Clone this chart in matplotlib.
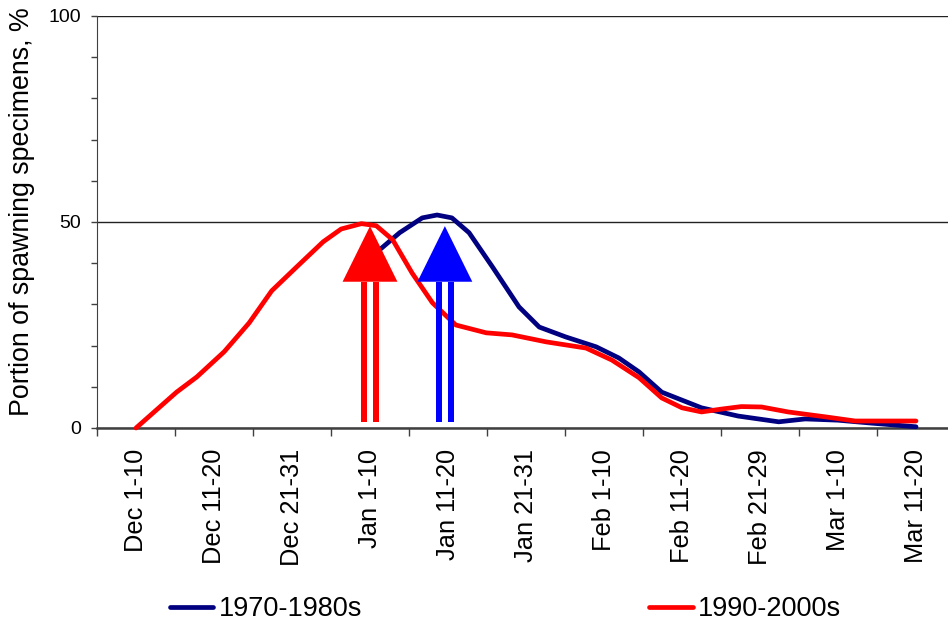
import matplotlib
matplotlib.use("Agg")
import matplotlib.pyplot as plt
from matplotlib.patches import Polygon, Rectangle
from matplotlib.ticker import FixedLocator, NullFormatter

plt.rcParams['font.family'] = ['Liberation Sans', 'DejaVu Sans']

# ten-day periods (category axis)
periods = ["Dec 1-10", "Dec 11-20", "Dec 21-31", "Jan 1-10", "Jan 11-20",
           "Jan 21-31", "Feb 1-10", "Feb 11-20", "Feb 21-29", "Mar 1-10",
           "Mar 11-20"]

# 1970-1980s curve, x in period index units
old_x = [3.0, 3.12, 3.38, 3.67, 3.86, 4.05, 4.27, 4.57, 4.91, 5.17, 5.51,
         5.90, 6.19, 6.45, 6.74, 7.25, 7.72, 8.24, 8.58, 9.0, 9.42, 10.0]
old_y = [41.5, 43.2, 47.4, 51.0, 51.7, 51.0, 47.4, 39.1, 29.4, 24.5, 22.1,
         19.7, 17.0, 13.6, 8.7, 4.9, 2.9, 1.5, 2.2, 1.9, 1.2, 0.3]

# 1990-2000s curve
new_x = [0.0, 0.52, 0.78, 1.13, 1.45, 1.74, 2.06, 2.40, 2.63, 2.89, 3.08,
         3.29, 3.54, 3.80, 4.10, 4.49, 4.82, 5.26, 5.77, 6.10, 6.45, 6.74,
         7.0, 7.25, 7.51, 7.76, 8.02, 8.36, 8.84, 9.22, 10.0]
new_y = [0.0, 8.7, 12.4, 18.5, 25.5, 33.3, 39.1, 45.2, 48.3, 49.6, 49.1,
         45.7, 37.6, 30.4, 25.0, 23.1, 22.6, 20.9, 19.4, 16.5, 12.2, 7.3,
         4.9, 3.9, 4.6, 5.2, 5.1, 3.9, 2.7, 1.7, 1.7]

# peak markers (arrows): position on the period axis, colour
arrow_pos = [3.0, 3.96]
arrow_col = ["#ff0000", "#0000ff"]

W, H = 948, 623
fig = plt.figure(figsize=(W / 100, H / 100), dpi=100)
ax = fig.add_axes([97 / W, (H - 428) / H, 858 / W, 412 / H])

ax.plot(old_x, old_y, color="#000080", lw=3.4, solid_capstyle="round",
        solid_joinstyle="round", clip_on=False, zorder=3, label="1970-1980s")
ax.plot(new_x, new_y, color="#ff0000", lw=3.4, solid_capstyle="round",
        solid_joinstyle="round", clip_on=False, zorder=4, label="1990-2000s")

# double-shafted arrows
px = 1 / 78.2  # one pixel in period units
for xc, col in zip(arrow_pos, arrow_col):
    for off in (-9, 3):
        ax.add_patch(Rectangle((xc + off * px, 1.5), 6 * px, 34.0,
                               facecolor=col, edgecolor="none", zorder=5))
    ax.add_patch(Polygon([(xc - 27.5 * px, 35.5), (xc + 27.5 * px, 35.5),
                          (xc, 49.0)], closed=True, facecolor=col,
                         edgecolor="none", zorder=5))

ax.set_xlim(-0.5, 10.5)
ax.set_ylim(0, 100)

# x: tick marks at period boundaries, labels at centres
ax.xaxis.set_major_locator(FixedLocator([i - 0.5 for i in range(len(periods) + 1)]))
ax.xaxis.set_major_formatter(NullFormatter())
ax.xaxis.set_minor_locator(FixedLocator(range(len(periods))))
ax.set_xticklabels(periods, minor=True, rotation=90, fontsize=18.3, va="top")
ax.tick_params(axis="x", which="major", length=6, width=1, color="#404040",
               direction="out")
ax.tick_params(axis="x", which="minor", length=0, pad=15)

# y: labels at 0/50/100, small ticks every 10
ax.set_yticks([0, 50, 100])
ax.set_yticks(range(0, 101, 10), minor=True)
ax.tick_params(axis="y", which="both", length=4.5, width=1, color="#404040",
               labelsize=14, pad=7)
ax.yaxis.grid(True, which="major", color="#222222", lw=1)
ax.set_axisbelow(True)

ax.spines["top"].set_visible(False)
ax.spines["right"].set_visible(False)
ax.spines["left"].set_color("#404040")
ax.spines["bottom"].set_color("#404040")
ax.spines["bottom"].set_linewidth(1.8)

fig.text(22 / W, 1 - 212 / H, "Portion of spawning specimens, %",
         rotation=90, ha="center", va="center", fontsize=19.3)

fig.legend(loc="center left", bbox_to_anchor=(170 / W, 1 - 609 / H),
           ncol=2, frameon=False, fontsize=19.5, borderpad=0,
           borderaxespad=0, handlelength=1.6, handletextpad=0.2,
           columnspacing=10.6)

fig.savefig("out.png", dpi=100)
